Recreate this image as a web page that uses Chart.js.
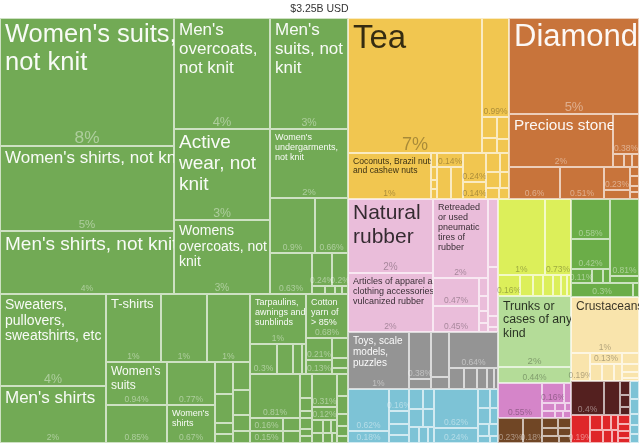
<!DOCTYPE html>
<html>
<head>
<meta charset="utf-8">
<title>Exports treemap</title>
<script src="https://cdn.jsdelivr.net/npm/chart.js@4.4.1/dist/chart.umd.min.js"></script>
<style>
  html, body { margin: 0; padding: 0; background: #fff; }
  #wrap { position: relative; width: 639px; height: 443px; }
</style>
</head>
<body>
<div id="wrap"><canvas id="myChart"></canvas></div>
<script>
'use strict';

// -------------------- data --------------------
// share of total exports in %, one array pair per product group.
// name '' = only the share is printed, null = cell too small for any text
const totalLabel = '$3.25B USD';

const textileNames = [
  "Women's suits, not knit", "Women's shirts, not knit", "Men's shirts, not knit",
  "Men's overcoats, not knit", "Active wear, not knit", "Womens overcoats, not knit",
  "Men's suits, not knit", "Women's undergarments, not knit", '', '', '', '', '', null, null, null, null,
  "Sweaters, pullovers, sweatshirts, etc", "Men's shirts",
  "T-shirts", '', '', "Women's suits", '', '', "Women's shirts",
  null, null, null, null, null, null, null, null,
  "Tarpaulins, awnings and sunblinds", '', null, null, null,
  "Cotton yarn of >\u00a085%", '', '', null, null, null,
  '', null, null, null, '', '', null, null, null, null, null,
  '', '', null, null, null, null, null, null,
  null, null, null, null, null
];
const textileShares = [
  8.2, 5.4, 4.0, 3.9, 3.2, 2.6, 3.2, 2.0, 0.9, 0.66, 0.63, 0.24, 0.2, 0.04, 0.03, 0.02, 0.02,
  3.6, 2.2, 1.37, 1.17, 1.06, 0.94, 0.85, 0.77, 0.67,
  0.21, 0.19, 0.07, 0.06, 0.17, 0.15, 0.1, 0.07,
  1.05, 0.3, 0.17, 0.1, 0.05,
  0.68, 0.21, 0.13, 0.12, 0.06, 0.04,
  0.81, 0.1, 0.05, 0.03, 0.16, 0.15, 0.08, 0.07, 0.05, 0.03, 0.03,
  0.31, 0.12, 0.06, 0.04, 0.03, 0.04, 0.03, 0.02,
  0.09, 0.07, 0.05, 0.04, 0.03
];

const teaNames = ['Tea', '', null, null, null, null, 'Coconuts, Brazil nuts and cashew nuts',
  null, null, null, null, '', null, null, '', '', null, null, null, null, null, null];
const teaShares = [6.6, 0.99, 0.12, 0.08, 0.1, 0.06, 1.38,
  0.03, 0.03, 0.02, 0.02, 0.14, 0.16, 0.14, 0.24, 0.14, 0.1, 0.06, 0.08, 0.05, 0.05, 0.04];

const stoneNames = ['Diamonds', 'Precious stones', '', null, null, null, '', '', '', null, null, null, null, null];
const stoneShares = [4.6, 2.0, 0.38, 0.05, 0.04, 0.03, 0.6, 0.51, 0.23, 0.08, 0.03, 0.03, 0.02, 0.02];

const rubberNames = ['Natural rubber', 'Articles of apparel and clothing accessories of vulcanized rubber',
  'Retreaded or used pneumatic tires of rubber', '', '', null, null, null, null, null, null, null, null];
const rubberShares = [2.3, 1.84, 1.6, 0.47, 0.45, 0.06, 0.05, 0.04, 0.03, 0.25, 0.18, 0.04, 0.02];

const toyNames = ['Toys, scale models, puzzles', '', null, null, null, '', null, null, null, null, null];
const toyShares = [1.26, 0.38, 0.08, 0.3, 0.08, 0.64, 0.12, 0.1, 0.08, 0.06, 0.03];

const machNames = ['', '', '', null, null, null, null, null, null, null, null, null, null,
  '', '', null, null, null, null, null, null, null, null];
const machShares = [0.62, 0.18, 0.16, 0.1, 0.08, 0.06, 0.1, 0.08, 0.09, 0.07, 0.06, 0.05, 0.04,
  0.62, 0.24, 0.08, 0.06, 0.07, 0.05, 0.05, 0.04, 0.03, 0.02];

const limeNames = ['', '', '', null, null, null, null, null, null];
const limeShares = [1.32, 0.73, 0.16, 0.1, 0.08, 0.07, 0.06, 0.05, 0.03];

const hideNames = ['Trunks or cases of any kind', ''];
const hideShares = [1.9, 0.44];

const chemNames = ['', '', null, null, null, null, null, null, null];
const chemShares = [0.55, 0.16, 0.05, 0.04, 0.03, 0.02, 0.03, 0.02, 0.02];

const metalNames = ['', '', null, null, null, null, null, null];
const metalShares = [0.23, 0.18, 0.06, 0.05, 0.05, 0.04, 0.04, 0.03];

const vegNames = ['', '', '', null, null, '', null, '', null];
const vegShares = [0.58, 0.42, 0.11, 0.06, 0.04, 0.81, 0.08, 0.3, 0.03];

const animalNames = ['Crustaceans', '', '', null, null, null, null, null, null, null];
const animalShares = [1.4, 0.19, 0.13, 0.08, 0.07, 0.05, 0.07, 0.05, 0.04, 0.02];

const maroonNames = ['', null, null, null, null];
const maroonShares = [0.4, 0.2, 0.05, 0.04, 0.03];

const redNames = ['', null, null, null, null, null, null, null, null, null, null];
const redShares = [0.19, 0.07, 0.05, 0.04, 0.06, 0.04, 0.03, 0.04, 0.03, 0.03, 0.02];

const blueNames = [null, null, null, null, null];
const blueShares = [0.06, 0.05, 0.04, 0.03, 0.03];

// -------------------- layout / style --------------------
// nesting of the cells: h( ) side by side, v( ) stacked, * one product (in array order)
const sectors = {
  textiles: [textileNames, textileShares, '#72AA55', 'light',
    `v( h( v(***) v(***) v(** v( h(**) h(* v( h(**) h(****) )) )) )
        h( v(**) v( h(***) h( v(**) v(**) h( v(****) v(****) ) ) )
           v( h( v(* h(****)) v(* h( v(**) v(***) )) )
              h( v( h(* v(***)) h( v(**) v(**) v(***) ) ) v(** h(***) h(***)) v(*****) ) ) ) )`],
  tea: [teaNames, teaShares, '#F1C650', 'dark',
    'v( h(* v(* h(v(**) v(**)))) h(* v(****) v(* h(**)) v(**) v(h(**) h(**) h(**))) )'],
  stones: [stoneNames, stoneShares, '#C8743B', 'light', 'v( * h(* v(* h(***))) h(** v(**) v(****)) )'],
  rubber: [rubberNames, rubberShares, '#EABDDA', 'dark', 'h( v(**) v(* h(v(**) v(****))) v(****) )'],
  toys: [toyNames, toyShares, '#949494', 'light', 'h( * v(**) v(**) v(* h(*****)) )'],
  machines: [machNames, machShares, '#7DC3D6', 'light',
    'h( v(**) v(****) v(h(**) h(**) h(***)) v(**) v(h(**) h(**) h(**) h(**)) )'],
  lime: [limeNames, limeShares, '#DCEF5A', 'dark', 'v( h(**) h(*******) )'],
  hides: [hideNames, hideShares, '#B4DC98', 'dark', 'v(**)'],
  chem: [chemNames, chemShares, '#D585C9', 'dark', 'h( * v(h(**) h(***) h(***)) )'],
  metals: [metalNames, metalShares, '#704625', 'light', 'h( ** v(h(**) h(**) h(**)) )'],
  veg: [vegNames, vegShares, '#6BAD48', 'light', 'v( h( v(** h(***)) v(**) ) h(**) )'],
  animal: [animalNames, animalShares, '#F9E4AC', 'dark', 'v( * h(* v(* h(***)) v(****)) )'],
  maroon: [maroonNames, maroonShares, '#54201F', 'light', 'h( ** v(***) )'],
  red: [redNames, redShares, '#DF2629', 'light', 'h( * v(h(***) h(***)) v(****) )'],
  blue: [blueNames, blueShares, '#7DC3D6', 'light', 'v(*****)']
};

const rootLayout = ['h', 'textiles',
  ['v', ['h', 'tea', 'stones'],
    ['h', ['v', 'rubber', 'toys', 'machines'],
      ['v', 'lime', 'hides', 'chem', 'metals'],
      ['v', 'veg', 'animal', ['h', ['v', 'maroon', 'red'], 'blue']]]]];

// font size, wrap tolerance
const labelStyle = {
  "Women's suits, not knit": [25.5, 1],
  "Women's shirts, not knit": [17, 1.15],
  "Men's shirts, not knit": [19, 1.1],
  "Men's overcoats, not knit": [17, 1],
  "Active wear, not knit": [19, 1],
  "Womens overcoats, not knit": [14, 1],
  "Men's suits, not knit": [17, 1],
  "Women's undergarments, not knit": [9, 1],
  "Sweaters, pullovers, sweatshirts, etc": [14, 1],
  "Men's shirts": [17, 1],
  "T-shirts": [13, 1],
  "Women's suits": [12, 1],
  "Women's shirts": [9, 1],
  "Tarpaulins, awnings and sunblinds": [9, 1],
  "Cotton yarn of >\u00a085%": [9, 1],
  "Tea": [33, 1],
  "Diamonds": [31, 1],
  "Precious stones": [15.3, 1.12],
  "Coconuts, Brazil nuts and cashew nuts": [8.6, 1.15],
  "Natural rubber": [21, 1],
  "Retreaded or used pneumatic tires of rubber": [9, 1],
  "Articles of apparel and clothing accessories of vulcanized rubber": [9, 1.2],
  "Toys, scale models, puzzles": [10, 1],
  "Trunks or cases of any kind": [12.3, 1.12],
  "Crustaceans": [12, 1]
};

// -------------------- treemap build --------------------
function parseShape(src) {
  const s = src.replace(/\s+/g, '');
  let i = 0;
  function node() {
    const c = s[i];
    if (c === '*') { i++; return { leaf: true }; }
    if ((c === 'h' || c === 'v') && s[i + 1] === '(') {
      i += 2;
      const kids = [];
      while (s[i] !== ')') kids.push(node());
      i++;
      return { dir: c, kids };
    }
    throw new Error('bad shape near ' + i);
  }
  return node();
}

function sectorNode(key) {
  const [names, shares, color, mode, shape] = sectors[key];
  const root = parseShape(shape);
  let k = 0;
  (function walk(n) {
    if (n.leaf) {
      n.name = names[k];
      n.value = shares[k];
      n.color = color;
      n.mode = mode;
      k++;
    } else {
      n.kids.forEach(walk);
    }
  })(root);
  if (k !== shares.length || names.length !== shares.length) console.warn('count mismatch', key, k, shares.length);
  return root;
}

function build(spec) {
  if (typeof spec === 'string') return sectorNode(spec);
  return { dir: spec[0], kids: spec.slice(1).map(build) };
}

function sum(n) {
  n.sum = n.leaf ? n.value : n.kids.reduce((a, k) => a + sum(k), 0);
  return n.sum;
}

function place(n, x0, y0, x1, y1, out) {
  if (n.leaf) {
    out.push({ x0, y0, x1, y1, name: n.name, value: n.value, color: n.color, mode: n.mode });
    return;
  }
  let t = 0;
  n.kids.forEach(k => {
    const f0 = t / n.sum, f1 = (t + k.sum) / n.sum;
    if (n.dir === 'h') place(k, x0 + (x1 - x0) * f0, y0, x0 + (x1 - x0) * f1, y1, out);
    else place(k, x0, y0 + (y1 - y0) * f0, x1, y0 + (y1 - y0) * f1, out);
    t += k.sum;
  });
}

const tree = build(rootLayout);
sum(tree);
const cells = [];
place(tree, 0, 0, 1, 1, cells);

// -------------------- drawing --------------------
const FONT = "'Liberation Sans', Arial, Helvetica, sans-serif";

function shareText(v) {
  return v >= 1 ? Math.round(v) + '%' : Number(v.toPrecision(2)) + '%';
}

function wrap(ctx, text, maxW) {
  const lines = [];
  let cur = '';
  text.split(' ').forEach(w => {
    const test = cur ? cur + ' ' + w : w;
    if (cur && ctx.measureText(test.replace(/,$/, '')).width > maxW) {
      lines.push(cur);
      cur = w;
    } else {
      cur = test;
    }
  });
  if (cur) lines.push(cur);
  return lines;
}

const treemapPlugin = {
  id: 'treemap',
  afterDatasetsDraw(chart) {
    const { ctx, scales: { x, y } } = chart;
    cells.forEach(c => {
      const px0 = Math.round(x.getPixelForValue(c.x0));
      const px1 = Math.round(x.getPixelForValue(c.x1));
      const py0 = Math.round(y.getPixelForValue(c.y0));
      const py1 = Math.round(y.getPixelForValue(c.y1));
      const w = px1 - px0, h = py1 - py0;
      if (w <= 0 || h <= 0) return;

      ctx.save();
      ctx.fillStyle = c.color;
      ctx.fillRect(px0, py0, w, h);
      if (w > 1 && h > 1) {
        ctx.strokeStyle = 'rgba(255,255,255,0.65)';
        ctx.lineWidth = 1;
        ctx.strokeRect(px0 + 0.5, py0 + 0.5, w - 1, h - 1);
      }

      const light = c.mode === 'light';
      if (c.name) {
        const [size, tol] = labelStyle[c.name] || [9, 1];
        ctx.save();
        ctx.beginPath();
        ctx.rect(px0, py0, w, h);
        ctx.clip();
        ctx.font = size + 'px ' + FONT;
        ctx.fillStyle = light ? 'rgba(255,255,255,0.95)' : 'rgba(0,0,0,0.78)';
        ctx.textAlign = 'left';
        ctx.textBaseline = 'top';
        const lines = wrap(ctx, c.name, (w - 5) * tol);
        lines.forEach((l, i) => ctx.fillText(l, px0 + 5, py0 + 4 + i * size * 1.12));
        ctx.restore();
      }
      if (c.name !== null) {
        const size = Math.max(8.5, Math.min(20, Math.min(w, h) * 0.135));
        ctx.font = size + 'px ' + FONT;
        ctx.fillStyle = light ? 'rgba(255,255,255,0.42)' : 'rgba(0,0,0,0.3)';
        ctx.textAlign = 'center';
        ctx.textBaseline = 'alphabetic';
        ctx.fillText(shareText(c.value), px0 + w / 2, py1 - 3);
      }
      ctx.restore();
    });
  }
};

// -------------------- Chart.js --------------------
{
  Chart.defaults.font.family = FONT;
  const ctx = document.getElementById('myChart').getContext('2d');
  const myChart = new Chart(ctx, {
    type: 'scatter',
    data: { datasets: [{ data: [] }] },
    options: {
      responsive: true,
      maintainAspectRatio: false,
      animation: false,
      layout: { padding: 0 },
      scales: {
        x: { type: 'linear', min: 0, max: 1, display: false },
        y: { type: 'linear', min: 0, max: 1, reverse: true, display: false }
      },
      plugins: {
        legend: { display: false },
        tooltip: { enabled: false },
        title: {
          display: true,
          text: totalLabel,
          color: '#333',
          font: { size: 10.5, weight: 'normal' },
          padding: { top: 3, bottom: 2 }
        }
      }
    },
    plugins: [treemapPlugin]
  });
}
</script>
</body>
</html>
